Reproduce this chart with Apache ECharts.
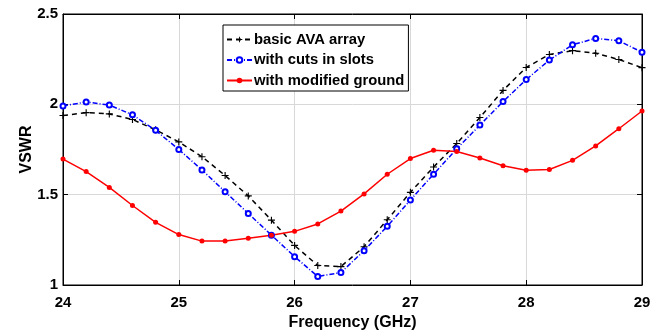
<!DOCTYPE html>
<html><head><meta charset="utf-8">
<script src="https://cdn.jsdelivr.net/npm/echarts@6/dist/echarts.min.js"></script>
<style>html,body{margin:0;padding:0;background:#fff}#c{width:658px;height:336px}</style>
</head><body><div id="c"></div>
<script>
const freq = [24,24.2,24.4,24.6,24.8,25,25.2,25.4,25.6,25.8,26,26.2,26.4,26.6,26.8,27,27.2,27.4,27.6,27.8,28,28.2,28.4,28.6,28.8,29];
const basic = [1.938,1.954,1.947,1.916,1.859,1.792,1.71,1.606,1.493,1.359,1.219,1.108,1.102,1.212,1.361,1.513,1.653,1.783,1.927,2.077,2.204,2.276,2.297,2.283,2.248,2.203];
const cuts = [1.991,2.013,1.996,1.942,1.856,1.75,1.637,1.516,1.396,1.276,1.157,1.047,1.069,1.19,1.325,1.471,1.613,1.754,1.885,2.015,2.137,2.245,2.33,2.365,2.352,2.288];
const ground = [1.697,1.628,1.54,1.44,1.347,1.279,1.243,1.243,1.259,1.276,1.297,1.338,1.409,1.504,1.613,1.70,1.746,1.739,1.703,1.66,1.635,1.639,1.69,1.77,1.865,1.963];
const names = ['basic AVA array','with cuts in slots','with modified ground'];
const xTicks = {min:24, max:29, interval:1};
const yTicks = {min:1, max:2.5, interval:0.5};

const pair = arr => freq.map((f,i)=>[f,arr[i]]);
const font = 'Liberation Sans, Arial, sans-serif';
const chart = echarts.init(document.getElementById('c'));
const plus = 'path://M4.2,0H5.8V4.2H10V5.8H5.8V10H4.2V5.8H0V4.2H4.2Z';
chart.setOption({
  animation:false,
  grid:{left:63,right:16,top:14,bottom:48,show:true,borderColor:'#000',borderWidth:1},
  legend:{
    orient:'vertical', left:223, top:25, itemWidth:25, itemHeight:7, itemGap:5.5,
    padding:[7,4,3,3], borderColor:'#000', borderWidth:1, backgroundColor:'#fff',
    textStyle:{fontFamily:font, fontWeight:'bold', fontSize:14.8, color:'#000', padding:[0,0,0,-3]},
    data:names
  },
  xAxis:[{
    type:'value', min:xTicks.min, max:xTicks.max, interval:xTicks.interval,
    name:'Frequency (GHz)', nameLocation:'middle', nameGap:30,
    nameTextStyle:{fontFamily:font, fontWeight:'bold', fontSize:16, color:'#000'},
    axisLine:{lineStyle:{color:'#000'}},
    axisTick:{inside:true, length:5, lineStyle:{color:'#000'}},
    axisLabel:{fontFamily:font, fontWeight:'bold', fontSize:15, color:'#000', margin:10},
    splitLine:{show:true, lineStyle:{color:'#d8d8d8'}}
  },{
    type:'value', position:'top', min:xTicks.min, max:xTicks.max, interval:xTicks.interval,
    axisLine:{lineStyle:{color:'#000'}},
    axisTick:{inside:true, length:5, lineStyle:{color:'#000'}},
    axisLabel:{show:false}, splitLine:{show:false}
  }],
  yAxis:[{
    type:'value', min:yTicks.min, max:yTicks.max, interval:yTicks.interval,
    name:'VSWR', nameLocation:'middle', nameGap:28, nameMoveOverlap:false,
    nameTextStyle:{fontFamily:font, fontWeight:'bold', fontSize:16, color:'#000'},
    axisLine:{show:true, lineStyle:{color:'#000'}},
    axisTick:{show:true, inside:true, length:5, lineStyle:{color:'#000'}},
    axisLabel:{fontFamily:font, fontWeight:'bold', fontSize:15, color:'#000', margin:5},
    splitLine:{show:true, lineStyle:{color:'#d8d8d8'}}
  },{
    type:'value', position:'right', min:yTicks.min, max:yTicks.max, interval:yTicks.interval,
    axisLine:{show:true, lineStyle:{color:'#000'}},
    axisTick:{show:true, inside:true, length:5, lineStyle:{color:'#000'}},
    axisLabel:{show:false}, splitLine:{show:false}
  }],
  series:[
    {name:names[0], type:'line', data:pair(basic), symbol:plus, symbolSize:7, showAllSymbol:true,
     itemStyle:{color:'#000'}, lineStyle:{color:'#000', width:1.5, type:[5,4]}},
    {name:names[1], type:'line', data:pair(cuts), symbol:'emptyCircle', symbolSize:5, showAllSymbol:true,
     itemStyle:{color:'#0000ff', borderWidth:1.5}, lineStyle:{color:'#0000ff', width:1.5, type:[5,2,1,2]}},
    {name:names[2], type:'line', data:pair(ground), symbol:'circle', symbolSize:5, showAllSymbol:true,
     itemStyle:{color:'#ff0000'}, lineStyle:{color:'#ff0000', width:1.5}}
  ]
});
</script></body></html>
